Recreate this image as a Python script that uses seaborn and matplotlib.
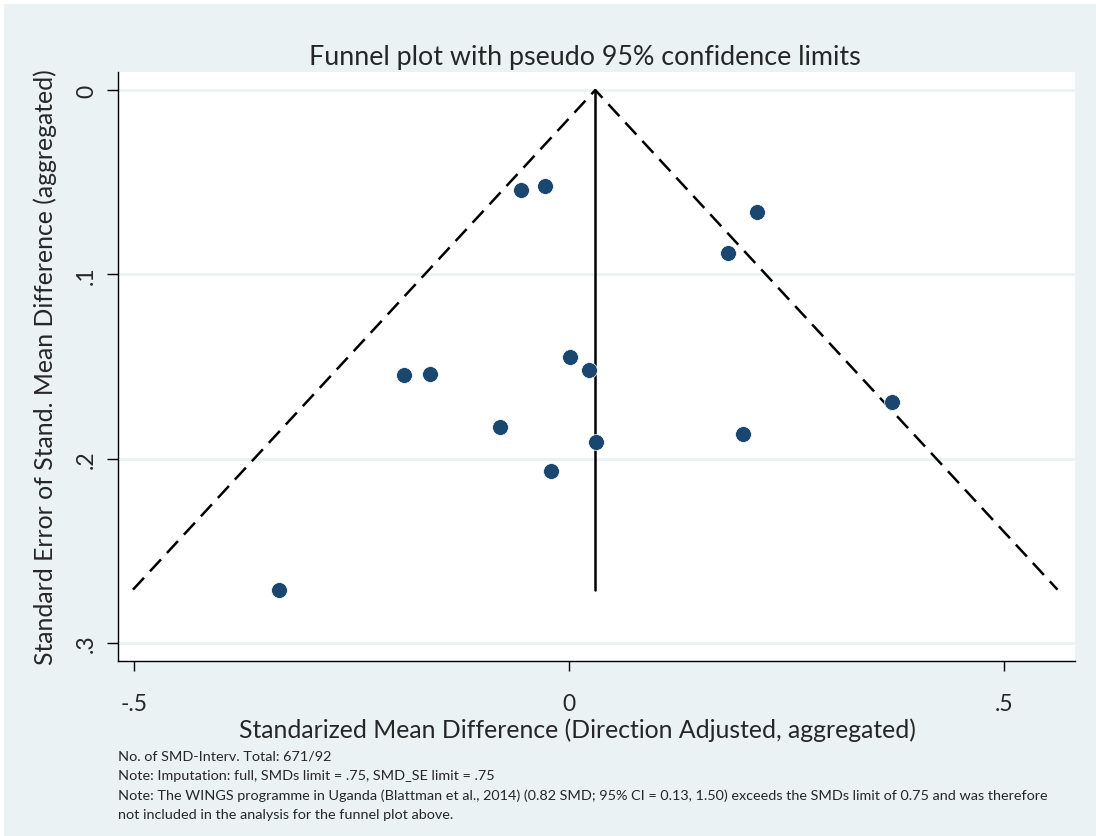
import numpy as np
import pandas as pd
import matplotlib
matplotlib.use("Agg")
import matplotlib.pyplot as plt
import seaborn as sns
from matplotlib.patches import Rectangle

# study-level values
smd = [-0.055, -0.028, 0.216, 0.183, 0.001, 0.023, -0.190, -0.160,
       0.371, -0.079, 0.031, 0.200, -0.021, -0.333]
se = [0.0542, 0.0521, 0.0662, 0.0884, 0.1448, 0.1518, 0.1546, 0.1540,
      0.1692, 0.1828, 0.1909, 0.1866, 0.2066, 0.2711]
x_ticks = [-0.5, 0, 0.5]
x_ticklabels = ["-.5", "0", ".5"]
y_ticks = [0, 0.1, 0.2, 0.3]
y_ticklabels = ["0", ".1", ".2", ".3"]

title = "Funnel plot with pseudo 95% confidence limits"
xlabel = "Standarized Mean Difference (Direction Adjusted, aggregated)"
ylabel = "Standard Error of Stand. Mean Difference (aggregated)"
notes = [
    "No. of SMD-Interv. Total: 671/92",
    "Note: Imputation: full, SMDs limit = .75, SMD_SE limit = .75",
    "Note: The WINGS programme in Uganda (Blattman et al., 2014) (0.82 SMD; 95% CI = 0.13, 1.50) exceeds the SMDs limit of 0.75 and was therefore",
    "not included in the analysis for the funnel plot above.",
]

df = pd.DataFrame({"smd": smd, "se": se})

# fixed-effect pooled estimate and pseudo 95% limits
w = 1 / df["se"] ** 2
theta = (w * df["smd"]).sum() / w.sum()
se_max = df["se"].max()

sns.set_style("white")
plt.rcParams["font.family"] = ["Lato", "DejaVu Sans"]

BG = "#eaf2f3"
NAVY = "#1a476f"

fig = plt.figure(figsize=(10.96, 8.37), dpi=100, facecolor="white")
fig.patches.append(Rectangle((4 / 1096, 0), 1, 1 - 5 / 837, transform=fig.transFigure,
                             facecolor=BG, edgecolor="none", zorder=-10))
ax = fig.add_axes([118 / 1096, 175 / 837, 957 / 1096, 589 / 837])
ax.set_facecolor("white")

for yt in y_ticks:
    ax.axhline(yt, color=BG, lw=2, zorder=0)

ax.plot([theta - 1.96 * se_max, theta, theta + 1.96 * se_max], [se_max, 0, se_max],
        color="black", lw=1.8, dashes=(6.5, 3.5), zorder=2)
ax.plot([theta, theta], [0, se_max], color="black", lw=1.8, zorder=2)

sns.scatterplot(data=df, x="smd", y="se", ax=ax, s=130, color=NAVY,
                edgecolor="white", linewidth=0.5, zorder=3)

ax.set_xlim(-0.5184, 0.5816)
ax.set_ylim(0.3098, -0.0098)

for side in ["top", "right"]:
    ax.spines[side].set_visible(False)
for side in ["left", "bottom"]:
    ax.spines[side].set_color("black")
    ax.spines[side].set_linewidth(1)

ax.set_xticks(x_ticks)
ax.set_xticklabels(x_ticklabels, fontsize=16.5)
ax.set_yticks(y_ticks)
ax.set_yticklabels(y_ticklabels, fontsize=16.5, rotation=90, va="center")
ax.tick_params(axis="x", direction="out", length=7, width=1, color="black", pad=16, bottom=True)
ax.tick_params(axis="y", direction="out", length=8, width=1, color="black", pad=7, left=True)

ax.set_xlabel(xlabel, fontsize=17.8, labelpad=3)
ax.xaxis.set_label_coords((577 - 118) / 957, -(730 - 662) / 589)
ax.xaxis.label.set_va("center")
ax.set_ylabel(ylabel, fontsize=17.8, labelpad=14)
fig.text(585 / 1096, 1 - 58 / 837, title, fontsize=19.4, ha="center", va="center")

for i, line in enumerate(notes):
    fig.text(118 / 1096, 1 - (757 + i * 19.5) / 837, line, fontsize=10.4, ha="left", va="center")

fig.savefig("out.png", dpi=100, facecolor=fig.get_facecolor())
